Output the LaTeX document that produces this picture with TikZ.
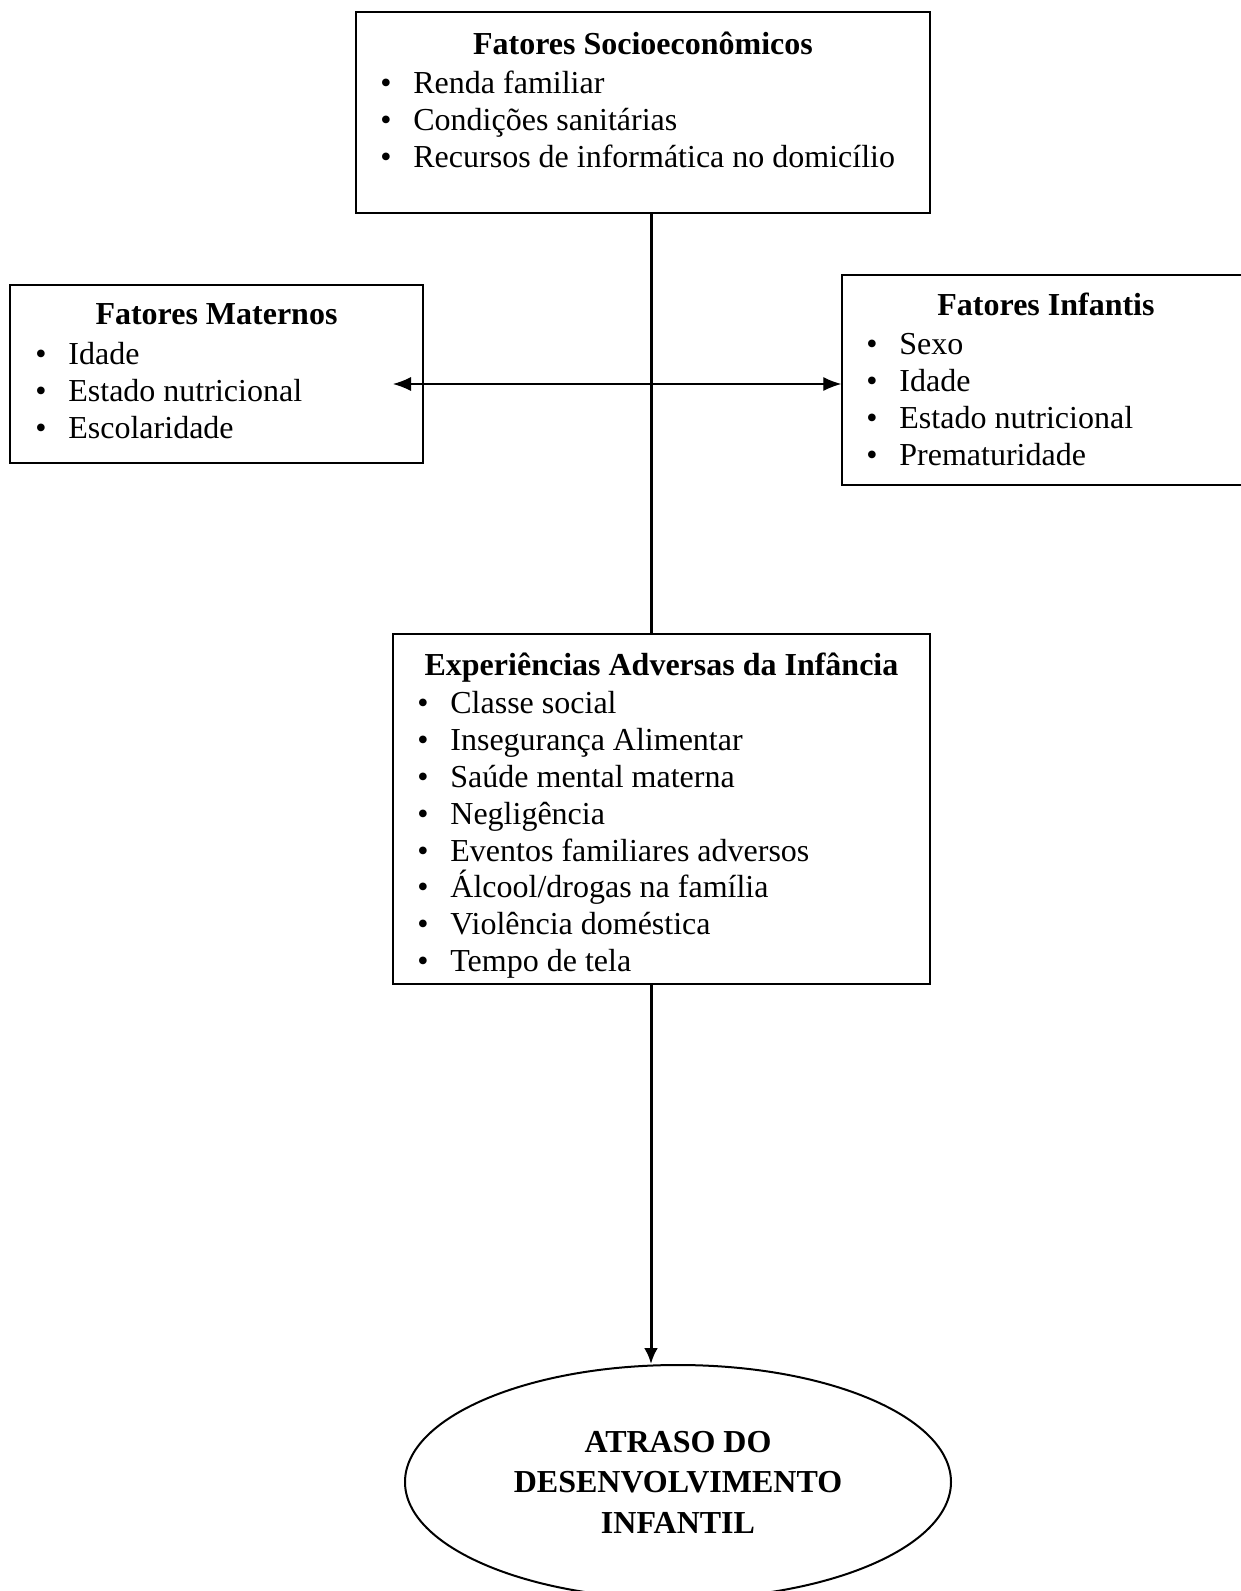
\documentclass[tikz,border=0pt]{standalone}
\usepackage{fontspec}
\setmainfont{Liberation Serif}
\usetikzlibrary{shapes.geometric,arrows.meta}
\newcommand{\bul}{\llap{\makebox[16.5pt][l]{\textbullet}}}

\begin{document}
\begin{tikzpicture}[
		x=0.5pt, y=-0.5pt,
		box/.style={rectangle,draw=black,line width=0.75pt,inner sep=0pt},
		title/.style={anchor=base,font=\bfseries\fontsize{16}{19}\selectfont,inner sep=0pt},
		entry/.style={anchor=base west,font=\fontsize{16}{19}\selectfont,inner sep=0pt},
		link/.style={draw=black,line width=1.5pt},
		flow/.style={link,-{Latex[length=8pt,width=7pt]}},
		both/.style={draw=black,line width=0.6pt,{Latex[length=9pt,width=7pt]}-{Latex[length=9pt,width=7pt]}}
		]
		\clip (0,0) rectangle (1241,1591);
		% caixas
		\node[box,minimum width=287pt,minimum height=100.5pt] (ses) at (643,112.5) {};
		\node[box,minimum width=206.5pt,minimum height=89pt] (mat) at (216.5,374) {};
		\node[box,minimum width=204pt,minimum height=105pt] (inf) at (1046,380) {};
		\node[box,minimum width=268.5pt,minimum height=175pt] (aei) at (661.5,809) {};
		\node[ellipse,draw=black,line width=1pt,inner sep=0pt,minimum width=273pt,minimum height=117pt,
			align=center,font=\bfseries\fontsize{16}{20.3}\selectfont] (atraso) at (678,1482)
			{ATRASO DO\\DESENVOLVIMENTO\\INFANTIL};
		% textos
		\node[title] (ses-t) at (643,54) {Fatores Socioeconômicos};
		\foreach \txt [count=\i] in {Renda familiar, Condições sanitárias, Recursos de informática no domicílio}
			\node[entry] (ses-\i) at (413,56+37*\i) {\bul\txt};
		\node[title] (mat-t) at (216.5,324) {Fatores Maternos};
		\foreach \txt [count=\i] in {Idade, Estado nutricional, Escolaridade}
			\node[entry] (mat-\i) at (68,327+37*\i) {\bul\txt};
		\node[title] (inf-t) at (1046,315) {Fatores Infantis};
		\foreach \txt [count=\i] in {Sexo, Idade, Estado nutricional, Prematuridade}
			\node[entry] (inf-\i) at (899,317+37*\i) {\bul\txt};
		\node[title] (aei-t) at (661.5,675) {Experiências Adversas da Infância};
		\foreach \txt [count=\i] in {Classe social, Insegurança Alimentar, Saúde mental materna, Negligência,
			Eventos familiares adversos, Álcool/drogas na família, Violência doméstica, Tempo de tela}
			\node[entry] (aei-\i) at (450,677+36.8*\i) {\bul\txt};
		% setas
		\coordinate (axis) at (651,0);
		\coordinate (tipmat) at (393,384);
		\draw[link] (ses.south -| axis) -- (aei.north -| axis);
		\draw[both] (tipmat) -- (inf.west |- tipmat);
		\draw[flow] (aei.south -| axis) -- (atraso.north -| axis);
	\end{tikzpicture}
\end{document}
